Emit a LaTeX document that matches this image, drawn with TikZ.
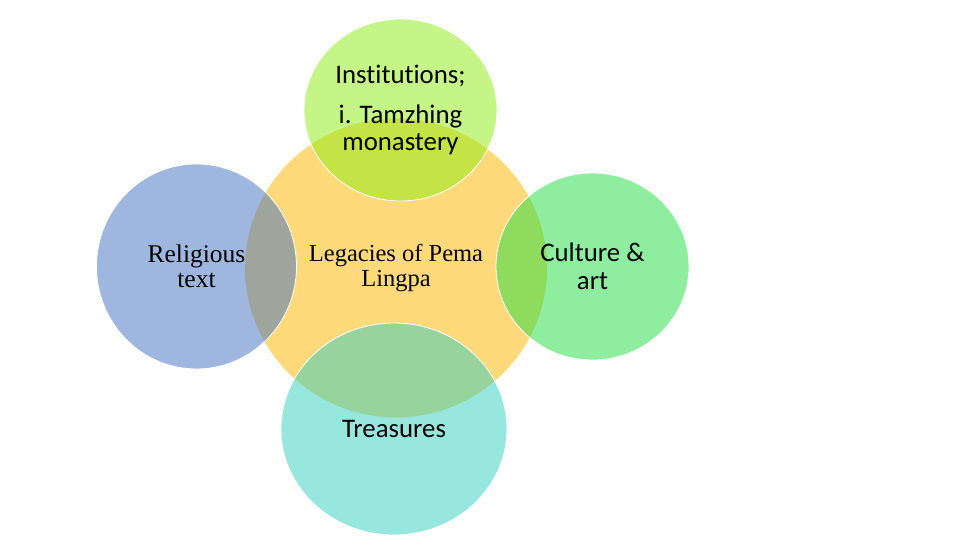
\documentclass[tikz,border=0pt]{standalone}
\usepackage{fontspec}
\setmainfont{Liberation Serif}
\newfontfamily\calfont[Ligatures=NoCommon]{Carlito}
\usetikzlibrary{shapes.geometric}
\definecolor{cyellow}{RGB}{255,217,122}
\definecolor{ctop}{RGB}{139,237,15}
\definecolor{cleft}{RGB}{65,113,193}
\definecolor{cright}{RGB}{33,221,65}
\definecolor{cbottom}{RGB}{49,209,193}
\tikzset{
  bubble/.style={ellipse, draw=white, line width=0.8pt, inner sep=0pt, align=center, text=black},
  sat/.style={bubble, fill opacity=0.5, text opacity=1},
  sanslabel/.style={font=\calfont\fontsize{26.8}{27.5}\selectfont},
  seriflabel/.style={font=\fontsize{24.5}{25}\selectfont}
}
\begin{document}
\begin{tikzpicture}[x=1pt,y=-1pt]
\useasboundingbox (0,0) rectangle (975,548);
\fill[white] (0,0) rectangle (975,548);
\node[bubble, fill=cyellow, minimum width=303pt, minimum height=300pt, seriflabel] (center) at (396,268) {Legacies of Pema\\Lingpa};
\node[sat, fill=ctop, minimum width=193pt, minimum height=182pt, sanslabel] (top) at (400.5,110) {Institutions;\\[12pt]i. Tamzhing\\monastery};
\node[sat, fill=cleft, minimum width=200pt, minimum height=205pt, font=\fontsize{25.5}{25.5}\selectfont] (left) at (196.5,266.5) {Religious\\text};
\node[sat, fill=cright, minimum width=193pt, minimum height=187pt, sanslabel] (right) at (592.5,266.5) {Culture \&\\art};
\node[sat, fill=cbottom, minimum width=226pt, minimum height=212pt, sanslabel] (bottom) at (394,429) {Treasures};
\end{tikzpicture}
\end{document}
